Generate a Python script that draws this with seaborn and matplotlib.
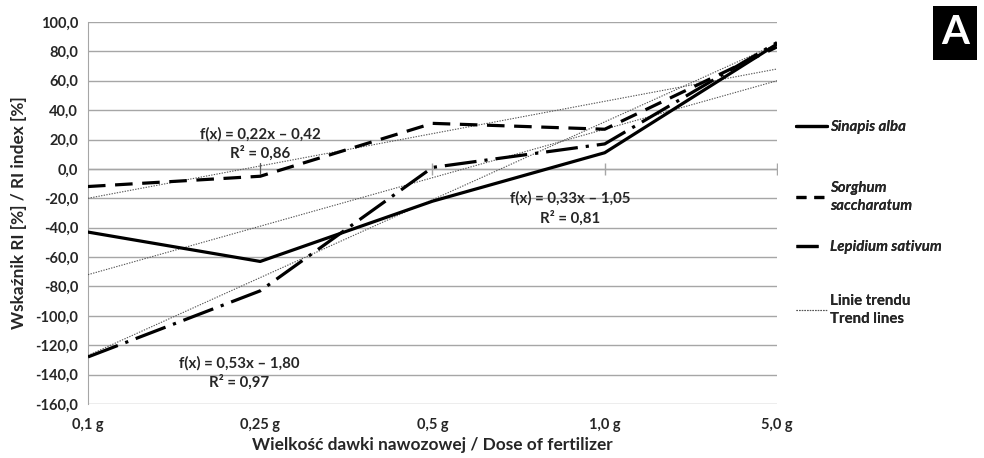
import numpy as np
import pandas as pd
import matplotlib
matplotlib.use("Agg")
import matplotlib.pyplot as plt
import seaborn as sns
from matplotlib.lines import Line2D
from matplotlib.patches import Rectangle

# Data
doses = ["0,1 g", "0,25 g", "0,5 g", "1,0 g", "5,0 g"]
sinapis = [-43, -63, -22, 11, 85]
sorghum = [-12, -5, 31, 27, 83]
lepidium = [-128, -83, 1, 17, 86]

# Trend line coefficients as printed on the chart (x = 1..5, result in fractions)
trend_slope = [0.33, 0.22, 0.53]
trend_icept = [-1.05, -0.42, -1.80]
trend_text = ["f(x) = 0,33x \u2013 1,05\nR\u00b2 = 0,81",
              "f(x) = 0,22x \u2013 0,42\nR\u00b2 = 0,86",
              "f(x) = 0,53x \u2013 1,80\nR\u00b2 = 0,97"]

sns.set_style("white")
plt.rcParams['font.family'] = ['Lato', 'DejaVu Sans']
plt.rcParams['font.weight'] = 'bold'

fig = plt.figure(figsize=(9.84, 4.58), dpi=100)
ax = fig.add_axes([0.0894, 0.118, 0.7002, 0.834])

xpos = np.arange(len(doses))
df = pd.DataFrame({"x": xpos, "Sinapis alba": sinapis,
                   "Sorghum saccharatum": sorghum, "Lepidium sativum": lepidium})

sorg_ls = (0, (5.5, 3))
lep_ls = (0, (10, 2.5, 1, 2.5))
trend_ls = (0, (1.2, 1.2))

# trend lines
for a, b in zip(trend_slope, trend_icept):
    xx = np.array([1, 5])
    sns.lineplot(x=xx - 1, y=100 * (a * xx + b), ax=ax, color='#555555',
                 lw=0.8, linestyle=trend_ls, zorder=3)

sns.lineplot(data=df, x="x", y="Sinapis alba", ax=ax, color='black', lw=2.3,
             linestyle='-', zorder=4)
sns.lineplot(data=df, x="x", y="Sorghum saccharatum", ax=ax, color='black', lw=2.3,
             linestyle=sorg_ls, zorder=4)
sns.lineplot(data=df, x="x", y="Lepidium sativum", ax=ax, color='black', lw=2.3,
             linestyle=lep_ls, zorder=4)

ax.set_xlim(0, 4)
ax.set_ylim(-160, 100)
ax.set_yticks(np.arange(-160, 101, 20))
ax.set_yticklabels([f"{v:.1f}".replace(".", ",") for v in np.arange(-160, 101, 20)],
                   fontsize=10.5, fontweight='bold')
ax.set_xticks(xpos)
ax.set_xticklabels(doses, fontsize=10.5, fontweight='bold')
ax.yaxis.grid(True, color='#a6a6a6', lw=1)
ax.xaxis.grid(False)
for s in ['top', 'right', 'bottom']:
    ax.spines[s].set_visible(False)
ax.spines['left'].set_color('#a6a6a6')
ax.tick_params(axis='y', length=4, color='#a6a6a6', pad=3)
ax.tick_params(axis='x', length=0, pad=10)

# horizontal axis at zero with tick marks
ax.axhline(0, color='#a6a6a6', lw=1, zorder=2)
ax.plot(xpos[1:], [0] * (len(xpos) - 1), ls='none', marker='|', ms=8,
        mec='#a6a6a6', mew=1, zorder=2)

ax.set_xlabel("Wielko\u015b\u0107 dawki nawozowej / Dose of fertilizer",
              fontsize=12.4, fontweight='bold', labelpad=4)
ax.set_ylabel("Wska\u017anik RI [%] / RI index [%]", fontsize=12.4,
              fontweight='bold', labelpad=6)

# trend equations
txt_kw = dict(ha='center', va='center', fontsize=10.8, fontweight='bold',
              linespacing=1.35, multialignment='center')
ax.text(2.8, -27, trend_text[0], **txt_kw)
ax.text(1.0, 17, trend_text[1], **txt_kw)
ax.text(0.88, -139, trend_text[2], **txt_kw)
ax.plot([1, 1], [-3, 4], color='#555555', lw=0.8)

# legend, one entry per block so the spacing follows the original
entries = [
    (Line2D([], [], color='black', lw=2.3, ls='-'), "Sinapis alba", 127, True),
    (Line2D([], [], color='black', lw=2.3, ls=(0, (3.1, 2.5))), "Sorghum\nsaccharatum", 197, True),
    (Line2D([], [], color='black', lw=2.3, ls=(0, (6.9, 20))), "Lepidium sativum", 247, True),
    (Line2D([], [], color='#555555', lw=0.8, ls=trend_ls), "Linie trendu\nTrend lines", 310, False),
]
for h, lab, ypix, ital in entries:
    leg = fig.legend([h], [lab], loc='center left',
                     bbox_to_anchor=(796 / 984, 1 - ypix / 458),
                     frameon=False, fontsize=10.8, handlelength=2.05,
                     handletextpad=0.25, borderpad=0, borderaxespad=0)
    for t in leg.get_texts():
        t.set_linespacing(1.45)
        if ital:
            t.set_fontstyle('italic')
    fig.add_artist(leg)

# panel letter
fig.add_artist(Rectangle((933 / 984, 1 - 60 / 458), 44 / 984, 54 / 458,
                         transform=fig.transFigure, fc='black', ec='none'))
fig.text(955 / 984, 1 - 33 / 458, "A", ha='center', va='center', fontsize=29,
         fontweight='bold', color='white')

fig.savefig("out.png", dpi=100)
